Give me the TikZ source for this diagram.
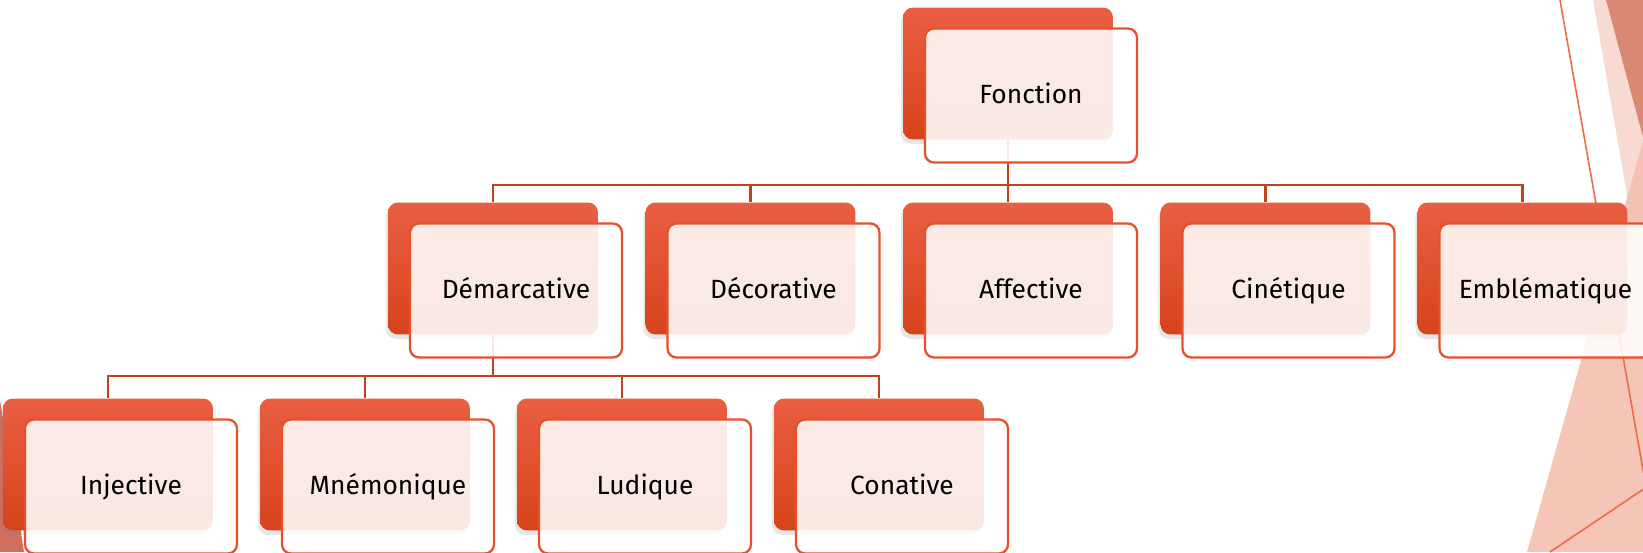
\documentclass[tikz,border=0pt]{standalone}
\usepackage{fontspec}
\setmainfont{Fira Sans}
\usepackage{xcolor}
\usepackage{tikz}
\usetikzlibrary{shadows}
\definecolor{fred}{HTML}{E95F42}
\definecolor{fdark}{HTML}{D6431B}
\definecolor{fline}{HTML}{C4411F}
\definecolor{fedge}{HTML}{E8502A}
\definecolor{fdeco}{HTML}{EE6A48}
\definecolor{fsalmon}{HTML}{F4BFB0}
\definecolor{fpink}{HTML}{F8DAD2}
\definecolor{fmauve}{HTML}{D98874}
\definecolor{fwedge}{HTML}{CF6F5C}

\tikzset{
  backbox/.style={rectangle, rounded corners=0.2cm, minimum width=4.2cm,
    minimum height=2.64cm, top color=fred, bottom color=fdark, draw=none,
    drop shadow={shadow xshift=-1.2pt, shadow yshift=-2.5pt, opacity=0.2}},
  frontbox/.style={rectangle, rounded corners=0.18cm, minimum width=4.24cm,
    minimum height=2.68cm, fill=white, fill opacity=0.88, text opacity=1,
    draw=fedge, line width=1.3pt, text height=0.92em, text depth=0pt,
    font=\fontsize{15}{18}\selectfont},
  link/.style={draw=fline, line width=1.3pt}
}

\begin{document}
\begin{tikzpicture}[x=0.02cm, y=-0.02cm]
\useasboundingbox (0,0) rectangle (1643,552);
\clip (0,0) rectangle (1643,552);
% facet background
\fill[fpink] (1593,0) -- (1643,0) -- (1643,286) -- cycle;
\fill[fmauve] (1606,0) -- (1643,0) -- (1643,137) -- cycle;
\fill[fsalmon, fill opacity=0.9] (1527,552) -- (1643,141) -- (1643,552) -- cycle;
\draw[fdeco, line width=0.9pt] (1560,0) -- (1660,566);
\draw[fdeco, line width=0.9pt] (1550,552) -- (1660,478);
\fill[fwedge] (0,400) -- (24,552) -- (0,552) -- cycle;
% back boxes
\node[backbox] (fonction-b) at (1008,73.5) {};
\node[backbox] (demarc-b) at (493,268.5) {};
\node[backbox] (decor-b) at (750.5,268.5) {};
\node[backbox] (affect-b) at (1008,268.5) {};
\node[backbox] (cinet-b) at (1265.5,268.5) {};
\node[backbox] (emblem-b) at (1522.5,268.5) {};
\node[backbox] (inject-b) at (108,464.5) {};
\node[backbox] (mnemo-b) at (365,464.5) {};
\node[backbox] (ludiq-b) at (622,464.5) {};
\node[backbox] (conat-b) at (879,464.5) {};
% connectors
\draw[link] (fonction-b.south) -- ++(0,45) -| (demarc-b.north);
\draw[link] (fonction-b.south) -- ++(0,45) -| (decor-b.north);
\draw[link] (fonction-b.south) -- (affect-b.north);
\draw[link] (fonction-b.south) -- ++(0,45) -| (cinet-b.north);
\draw[link] (fonction-b.south) -- ++(0,45) -| (emblem-b.north);
\draw[link] (demarc-b.south) -- ++(0,41.5) -| (inject-b.north);
\draw[link] (demarc-b.south) -- ++(0,41.5) -| (mnemo-b.north);
\draw[link] (demarc-b.south) -- ++(0,41.5) -| (ludiq-b.north);
\draw[link] (demarc-b.south) -- ++(0,41.5) -| (conat-b.north);
% front boxes
\node[frontbox] (fonction) at (1031,95.5) {Fonction};
\node[frontbox] (demarc) at (516,290.5) {Démarcative};
\node[frontbox] (decor) at (773.5,290.5) {Décorative};
\node[frontbox] (affect) at (1031,290.5) {Affective};
\node[frontbox] (cinet) at (1288.5,290.5) {Cinétique};
\node[frontbox] (emblem) at (1545.5,290.5) {Emblématique};
\node[frontbox] (inject) at (131,486.5) {Injective};
\node[frontbox] (mnemo) at (388,486.5) {Mnémonique};
\node[frontbox] (ludiq) at (645,486.5) {Ludique};
\node[frontbox] (conat) at (902,486.5) {Conative};
\end{tikzpicture}
\end{document}
